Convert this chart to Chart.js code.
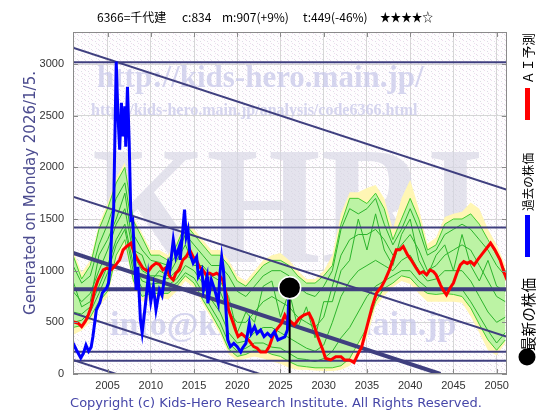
<!DOCTYPE html>
<html>
<head>
<meta charset="utf-8">
<script src="https://cdn.jsdelivr.net/npm/chart.js@4"></script>
<style>
  html, body { margin: 0; padding: 0; background: #fff; }
</style>
</head>
<body>
<canvas id="chart" width="560" height="420"></canvas>
<script>
// axis ranges and ticks
const xMin = 2001, xMax = 2051.2;
const yMin = 0, yMax = 3310;
const xTicks = [2005, 2010, 2015, 2020, 2025, 2030, 2035, 2040, 2045, 2050];
const yTicks = [0, 500, 1000, 1500, 2000, 2500, 3000];

// forecast cloud (yearly)
const bandYears = [2001, 2002, 2003, 2004, 2005, 2006, 2007, 2008, 2009, 2010,
  2011, 2012, 2013, 2014, 2015, 2016, 2017, 2018, 2019, 2020,
  2021, 2022, 2023, 2024, 2025, 2026, 2027, 2028, 2029, 2030,
  2031, 2032, 2033, 2034, 2035, 2036, 2037, 2038, 2039, 2040,
  2041, 2042, 2043, 2044, 2045, 2046, 2047, 2048, 2049, 2050, 2051];
const yellowHi = [1200, 980, 1100, 1450, 1650, 1900, 2050, 1520, 1360, 1200,
  1200, 1150, 1300, 1480, 1400, 1300, 1200, 1200, 1100, 950,
  900, 1000, 1100, 1150, 1170, 1100, 1000, 920, 920, 1000,
  1150, 1550, 1760, 1760, 1800, 1830, 1700, 1400, 1700, 1880,
  1600, 1260, 1320, 1520, 1550, 1570, 1660, 1600, 1400, 1250, 1050];
const yellowLo = [380, 420, 500, 650, 750, 1100, 1250, 850, 700, 720,
  740, 720, 800, 900, 840, 680, 540, 390, 190, 130,
  150, 170, 150, 120, 100, 60, 40, 40, 35, 30,
  30, 40, 80, 200, 350, 650, 760, 840, 900, 870,
  780, 700, 700, 700, 700, 690, 560, 400, 230, 180, 300];
const greenHi = [1150, 920, 1050, 1400, 1600, 1850, 2000, 1480, 1320, 1150,
  1150, 1100, 1250, 1450, 1350, 1250, 1150, 1150, 1050, 900,
  850, 950, 1050, 1100, 1100, 1050, 950, 880, 880, 950,
  1050, 1450, 1700, 1700, 1650, 1750, 1600, 1300, 1500, 1700,
  1500, 1200, 1250, 1450, 1500, 1500, 1550, 1450, 1300, 1150, 1000];
const greenLo = [450, 470, 550, 700, 800, 1150, 1300, 900, 750, 780,
  780, 780, 850, 950, 880, 720, 580, 430, 240, 170,
  190, 230, 230, 190, 170, 120, 80, 70, 60, 60,
  60, 80, 150, 300, 450, 700, 830, 880, 950, 930,
  840, 780, 770, 780, 770, 750, 640, 480, 330, 230, 330];
const greenA = [1050, 880, 950, 1250, 1450, 1700, 1850, 1350, 1200, 1100,
  1080, 1050, 1150, 1350, 1250, 1150, 1050, 1050, 950, 800,
  750, 850, 950, 1000, 1000, 950, 850, 780, 750, 850,
  1000, 1400, 1600, 1550, 1600, 1700, 1450, 1250, 1400, 1600,
  1400, 1150, 1200, 1350, 1400, 1450, 1400, 1300, 1200, 1050, 950];
const greenB = [800, 700, 780, 1000, 1200, 1450, 1600, 1150, 1000, 950,
  950, 920, 1000, 1150, 1100, 1000, 850, 800, 600, 500,
  500, 600, 700, 750, 700, 650, 550, 500, 450, 550,
  850, 1150, 1300, 1350, 1350, 1400, 1300, 1150, 1250, 1350,
  1200, 1000, 1050, 1150, 1200, 1250, 1200, 1050, 900, 750, 700];
const greenC = [600, 580, 650, 850, 1050, 1300, 1450, 1050, 900, 870,
  880, 860, 920, 1050, 1000, 880, 720, 600, 400, 300,
  320, 400, 450, 450, 400, 350, 300, 250, 220, 280,
  500, 750, 900, 1000, 1050, 1100, 1050, 1000, 1100, 1150,
  1000, 900, 920, 1000, 1000, 1000, 900, 750, 600, 500, 550];
const greenD = [900, 650, 700, 1150, 1300, 1500, 1750, 1200, 1150, 900,
  1000, 950, 1100, 1250, 1050, 1050, 950, 900, 750, 400,
  600, 500, 850, 900, 550, 800, 450, 650, 350, 700,
  700, 1000, 1100, 1500, 1200, 1550, 1200, 1050, 1350, 1500,
  1100, 950, 1150, 1250, 1000, 1350, 1050, 900, 1100, 850, 800];
const greenE = [500, 520, 600, 780, 980, 1250, 1400, 980, 830, 830,
  830, 830, 880, 980, 930, 790, 640, 500, 300, 220,
  250, 300, 300, 260, 250, 200, 150, 140, 120, 150,
  220, 350, 450, 600, 750, 850, 900, 950, 1000, 1000,
  900, 830, 830, 830, 830, 820, 700, 560, 420, 300, 400];

// past price (blue)
const pastYears = [2001.0, 2001.4, 2001.9, 2002.2, 2002.5, 2002.8, 2003.1, 2003.3, 2003.7, 2004.1,
  2004.4, 2004.9, 2005.1, 2005.3, 2005.5, 2005.7, 2006.0, 2006.2, 2006.4, 2006.6,
  2006.8, 2007.0, 2007.1, 2007.3, 2007.5, 2007.7, 2007.9, 2008.3, 2008.5, 2008.8,
  2009.0, 2009.4, 2009.7, 2010.0, 2010.3, 2010.6, 2011.0, 2011.3, 2011.6, 2012.0,
  2012.2, 2012.6, 2012.9, 2013.3, 2013.4, 2013.9, 2014.1, 2014.3, 2014.5, 2014.9,
  2015.3, 2015.5, 2015.9, 2016.1, 2016.5, 2016.6, 2017.0, 2017.4, 2017.8, 2018.0,
  2018.2, 2018.4, 2018.6, 2018.9, 2019.2, 2019.6, 2020.0, 2020.4, 2020.6, 2021.0,
  2021.4, 2021.6, 2022.0, 2022.3, 2022.7, 2023.1, 2023.5, 2023.9, 2024.3, 2024.7,
  2025.1, 2025.5, 2025.8, 2026.0];
const pastPrice = [300, 232, 155, 200, 280, 220, 260, 360, 620, 690,
  785, 835, 880, 1040, 1425, 1590, 3025, 2500, 2170, 2625,
  2300, 2590, 2200, 2780, 2240, 1490, 1500, 814, 1037, 523,
  400, 690, 940, 700, 843, 620, 814, 760, 940, 1075,
  1008, 1298, 1134, 1233, 1105, 1590, 1330, 1395, 1170, 1073,
  1134, 943, 1008, 814, 943, 685, 911, 814, 685, 976,
  1134, 1008, 750, 330, 265, 297, 265, 213, 250, 297,
  490, 394, 458, 394, 426, 362, 394, 362, 410, 330,
  345, 360, 426, 800];

// AI forecast (red)
const aiYears = [2001.0, 2001.6, 2002.0, 2002.4, 2002.7, 2003.1, 2003.5, 2003.9, 2004.5, 2004.9,
  2005.4, 2005.8, 2006.4, 2006.8, 2007.2, 2007.7, 2008.1, 2008.5, 2009.1, 2009.7,
  2010.1, 2010.6, 2011.0, 2011.4, 2011.8, 2012.2, 2012.6, 2012.9, 2013.3, 2013.7,
  2014.1, 2014.5, 2014.9, 2015.3, 2015.6, 2016.0, 2016.4, 2016.8, 2017.2, 2017.6,
  2017.9, 2018.3, 2018.7, 2019.0, 2019.4, 2019.8, 2020.1, 2020.5, 2020.9, 2021.3,
  2021.9, 2022.3, 2022.7, 2023.3, 2023.7, 2024.1, 2024.5, 2025.1, 2025.5, 2025.8,
  2026.0, 2026.6, 2027.2, 2027.7, 2028.3, 2028.7, 2029.3, 2029.9, 2030.2, 2030.8,
  2031.4, 2032.0, 2032.4, 2033.0, 2033.5, 2034.0, 2034.4, 2034.8, 2035.2, 2035.6,
  2036.1, 2036.7, 2037.1, 2037.6, 2038.0, 2038.4, 2038.8, 2039.2, 2039.7, 2040.1,
  2040.7, 2041.1, 2041.5, 2041.9, 2042.3, 2042.7, 2043.0, 2043.5, 2043.8, 2044.2,
  2044.6, 2045.0, 2045.4, 2045.8, 2046.2, 2046.6, 2047.0, 2047.4, 2047.8, 2048.4,
  2049.0, 2049.3, 2049.8, 2050.4, 2050.9, 2051.2];
const aiPrice = [507, 491, 458, 507, 555, 652, 814, 911, 1008, 1024,
  1008, 1040, 1105, 1202, 1234, 1266, 1170, 1105, 1024, 992,
  1040, 1073, 1060, 1008, 1030, 943, 911, 976, 1008, 1105,
  1134, 1202, 1134, 1100, 1040, 1008, 960, 975, 960, 975,
  960, 911, 782, 620, 523, 426, 362, 390, 362, 330,
  265, 250, 213, 213, 265, 362, 426, 490, 570, 523,
  523, 475, 540, 571, 590, 523, 362, 233, 152, 136,
  168, 168, 136, 136, 110, 200, 265, 394, 523, 652,
  782, 847, 911, 1008, 1105, 1202, 1202, 1234, 1153, 1105,
  1024, 975, 990, 960, 1008, 990, 960, 863, 814, 766,
  830, 880, 975, 1056, 1088, 1070, 1088, 1056, 1105, 1170,
  1234, 1266, 1202, 1105, 975, 911];

// support / resistance levels and trend channel lines
const levelPrices = [3018, 1418, 820, 216, 129];
const trendX1 = [2001, 2001, 2001, 2001, 2001];
const trendY1 = [3159, 1715, 1172, 591, 136];
const trendX2 = [2051.2, 2051.2, 2043.5, 2022.6, 2006];
const trendY2 = [1783, 359, 0, 0, 0];

// latest price
const latestYear = 2026.06, latestPrice = 834;

const navy = '#3f3f7f';

function series(xs, ys) {
  return xs.map((x, i) => ({ x: x, y: ys[i] }));
}

const datasets = [];
datasets.push({ data: series(bandYears, yellowHi), borderWidth: 0, fill: false, order: 20 });
datasets.push({ data: series(bandYears, yellowLo), borderWidth: 0, fill: '-1', backgroundColor: '#fff6b4', order: 20 });
datasets.push({ data: series(bandYears, greenHi), borderColor: '#44cc30', borderWidth: 1, fill: false, order: 19 });
datasets.push({ data: series(bandYears, greenLo), borderColor: '#44cc30', borderWidth: 1, fill: '-1', backgroundColor: '#bcf3a4', order: 19 });
[greenA, greenB, greenC, greenD, greenE].forEach(g => {
  datasets.push({ data: series(bandYears, g), borderColor: '#2cb42c', borderWidth: 1, fill: false, order: 18 });
});
levelPrices.forEach(v => {
  datasets.push({
    data: [{ x: xMin, y: v }, { x: xMax, y: v }],
    borderColor: navy, borderWidth: v === 820 ? 4 : 2, fill: false, order: 10
  });
});
trendY1.forEach((v, i) => {
  datasets.push({
    data: [{ x: trendX1[i], y: v }, { x: trendX2[i], y: trendY2[i] }],
    borderColor: navy, borderWidth: i === 2 ? 4 : 2, fill: false, order: 10
  });
});
datasets.push({ data: series(aiYears, aiPrice), borderColor: '#ff0000', borderWidth: 3, fill: false, order: 3 });
datasets.push({ data: series(pastYears, pastPrice), borderColor: '#0000ff', borderWidth: 3, fill: false, order: 2 });
datasets.push({
  data: [{ x: latestYear, y: 0 }, { x: latestYear, y: latestPrice }],
  borderColor: '#000', borderWidth: 2, fill: false, order: 1
});
datasets.push({
  data: [{ x: latestYear, y: latestPrice }],
  pointRadius: 11, pointBackgroundColor: '#000', pointBorderColor: '#fff', pointBorderWidth: 1.5,
  showLine: false, order: 0
});

// stipple background
const dots = document.createElement('canvas');
dots.width = 7; dots.height = 5;
const dc = dots.getContext('2d');
dc.fillStyle = '#fefdfe'; dc.fillRect(0, 0, 7, 5);
dc.fillStyle = '#eedcee'; dc.fillRect(1, 0, 1, 1); dc.fillRect(5, 3, 1, 1);
dc.fillStyle = '#dedee6'; dc.fillRect(4, 1, 1, 1); dc.fillRect(0, 4, 1, 1);

const decor = {
  id: 'decor',
  beforeDraw(chart) {
    const { ctx, chartArea: a } = chart;
    ctx.save();
    ctx.fillStyle = ctx.createPattern(dots, 'repeat');
    ctx.fillRect(a.left, a.top, a.right - a.left, a.bottom - a.top);
    ctx.restore();
  },
  beforeDatasetsDraw(chart) {
    const { ctx, chartArea: a } = chart;
    ctx.save();
    ctx.beginPath();
    ctx.rect(a.left, a.top, a.right - a.left, a.bottom - a.top);
    ctx.clip();
    ctx.textBaseline = 'alphabetic';
    ctx.textAlign = 'left';
    ctx.fillStyle = 'rgba(214,214,228,0.65)';
    ctx.font = 'bold 168px "Liberation Serif"';
    ctx.fillText('KHRI', 92, 262, 392);
    ctx.fillStyle = 'rgba(196,196,232,0.7)';
    ctx.font = 'bold 31px "Liberation Serif"';
    ctx.fillText('http://kids-hero.main.jp/', 97, 87, 382);
    ctx.font = 'bold 16px "Liberation Serif"';
    ctx.fillText('http://kids-hero.main.jp/analysis/code6366.html', 91, 115, 380);
    ctx.font = 'bold 34px "Liberation Serif"';
    ctx.fillText('info@kids-hero.main.jp', 110, 335, 357);
    ctx.restore();
  },
  afterDatasetsDraw(chart) {
    const { ctx, chartArea: a, scales } = chart;
    ctx.save();
    ctx.strokeStyle = '#8a8a8a';
    ctx.lineWidth = 1;
    ctx.strokeRect(a.left + 0.5, a.top + 0.5, a.right - a.left - 1, a.bottom - a.top - 1);
    ctx.beginPath();
    xTicks.forEach(v => {
      const px = Math.round(scales.x.getPixelForValue(v)) + 0.5;
      ctx.moveTo(px, a.top); ctx.lineTo(px, a.top + 5);
      ctx.moveTo(px, a.bottom); ctx.lineTo(px, a.bottom - 5);
    });
    yTicks.forEach(v => {
      const py = Math.round(scales.y.getPixelForValue(v)) + 0.5;
      ctx.moveTo(a.left, py); ctx.lineTo(a.left + 5, py);
      ctx.moveTo(a.right, py); ctx.lineTo(a.right - 5, py);
    });
    ctx.stroke();
    ctx.restore();
  },
  afterDraw(chart) {
    const ctx = chart.ctx;
    ctx.save();
    // title
    ctx.fillStyle = '#000';
    ctx.font = '12px "Noto Sans CJK JP"';
    ctx.textBaseline = 'middle';
    ctx.textAlign = 'left';
    ctx.fillText('6366=千代建', 97, 17, 70);
    ctx.fillText('c:834', 182, 17, 31);
    ctx.fillText('m:907(+9%)', 222, 17, 73);
    ctx.fillText('t:449(-46%)', 303, 17, 69);
    ctx.fillText('★★★★☆', 380, 17, 53);
    // left title
    ctx.fillStyle = '#4b4b8f';
    ctx.font = '15px "DejaVu Sans"';
    ctx.save();
    ctx.translate(31, 193);
    ctx.rotate(-Math.PI / 2);
    ctx.textAlign = 'center';
    ctx.fillText('Generated on Monday 2026/1/5.', 0, 0, 273);
    ctx.restore();
    // copyright
    ctx.fillStyle = '#4646a8';
    ctx.font = '13px "DejaVu Sans"';
    ctx.textAlign = 'center';
    ctx.fillText('Copyright (c) Kids-Hero Research Institute. All Rights Reserved.', 276, 404, 442);
    // right legend
    ctx.fillStyle = '#000';
    ctx.textAlign = 'left';
    const vtext = (t, x, y, size, w) => {
      ctx.save();
      ctx.translate(x, y);
      ctx.rotate(-Math.PI / 2);
      ctx.font = size + 'px "Noto Sans CJK JP"';
      ctx.fillText(t, 0, 0, w);
      ctx.restore();
    };
    vtext('ＡＩ予測', 528, 84, 13, 51);
    vtext('過去の株価', 528, 211, 12, 58);
    vtext('最新の株価', 528, 351, 15, 73);
    ctx.fillStyle = '#ff0000';
    ctx.fillRect(525, 88, 5, 32);
    ctx.fillStyle = '#0000ff';
    ctx.fillRect(525, 215, 5, 42);
    ctx.fillStyle = '#000';
    ctx.beginPath();
    ctx.arc(527, 357, 8.5, 0, Math.PI * 2);
    ctx.fill();
    ctx.restore();
  }
};

new Chart(document.getElementById('chart'), {
  type: 'line',
  data: { datasets: datasets },
  options: {
    responsive: false,
    animation: false,
    layout: { padding: { left: 0, right: 53, top: 32, bottom: 0 } },
    elements: { point: { radius: 0 }, line: { tension: 0 } },
    plugins: { legend: { display: false }, title: { display: false }, tooltip: { enabled: false } },
    scales: {
      x: {
        type: 'linear', min: xMin, max: xMax,
        afterBuildTicks: s => { s.ticks = xTicks.map(v => ({ value: v })); },
        afterFit: s => { s.height = 46; },
        grid: { color: '#d6d6d6', drawTicks: false },
        border: { display: false },
        ticks: {
          autoSkip: false, maxRotation: 0, padding: 5, color: '#333',
          font: { family: 'Liberation Sans', size: 11 },
          callback: v => String(v)
        }
      },
      y: {
        min: yMin, max: yMax,
        afterBuildTicks: s => { s.ticks = yTicks.map(v => ({ value: v })); },
        afterFit: s => { s.width = 73; },
        grid: { color: '#d6d6d6', drawTicks: false },
        border: { display: false },
        ticks: {
          padding: 9, color: '#333',
          font: { family: 'Liberation Sans', size: 11 },
          callback: v => String(v)
        }
      }
    }
  },
  plugins: [decor]
});
</script>
</body>
</html>
